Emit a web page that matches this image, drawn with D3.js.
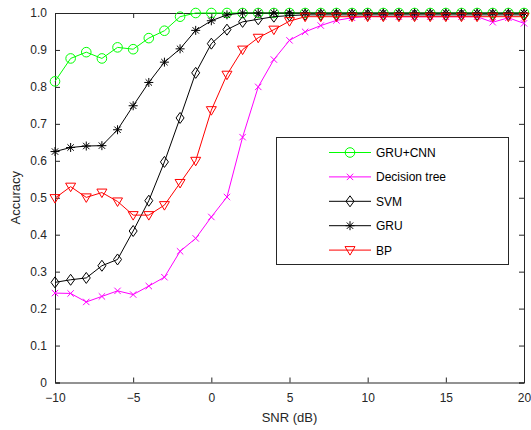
<!DOCTYPE html>
<html><head><meta charset="utf-8">
<script src="https://cdn.jsdelivr.net/npm/d3@7"></script>
<style>body{margin:0;background:#fff}svg{display:block}text{font-family:"Liberation Sans",Arial,sans-serif}</style>
</head><body><svg id="c" width="531" height="430"></svg>
<script>
const snr = d3.range(-10, 21, 1);
const gruCnn = [0.815,0.877,0.894,0.877,0.907,0.902,0.932,0.952,0.990,1.0,1.0,1.0,1.0,1.0,1.0,1.0,1.0,1.0,1.0,1.0,1.0,1.0,1.0,1.0,1.0,1.0,1.0,1.0,1.0,1.0,1.0];
const decisionTree = [0.242,0.241,0.218,0.233,0.248,0.238,0.261,0.285,0.355,0.390,0.448,0.502,0.664,0.800,0.874,0.926,0.949,0.966,0.980,0.987,0.991,0.990,0.990,0.990,0.990,0.990,0.990,0.990,0.975,0.987,0.972];
const svm = [0.271,0.278,0.283,0.316,0.333,0.410,0.492,0.597,0.716,0.838,0.917,0.955,0.976,0.983,0.990,0.993,0.995,0.995,0.995,0.995,0.995,0.995,0.995,0.995,0.995,0.995,0.995,0.995,0.995,0.995,0.995];
const gru = [0.625,0.636,0.640,0.641,0.684,0.749,0.812,0.867,0.903,0.953,0.979,0.995,1.0,1.0,1.0,1.0,1.0,1.0,1.0,1.0,1.0,1.0,1.0,1.0,1.0,1.0,1.0,1.0,1.0,1.0,1.0];
const bp = [0.499,0.530,0.501,0.514,0.490,0.453,0.453,0.480,0.540,0.600,0.737,0.833,0.901,0.933,0.955,0.978,0.990,0.990,0.990,0.990,0.990,0.990,0.990,0.990,0.990,0.990,0.990,0.990,0.990,0.990,0.990];
const seriesNames = ["GRU+CNN","Decision tree","SVM","GRU","BP"];
const xTicks = [-10,-5,0,5,10,15,20];
const yTicks = [0,0.1,0.2,0.3,0.4,0.5,0.6,0.7,0.8,0.9,1.0];

const series = [
  {name: seriesNames[0], vals: gruCnn, color: "#00ff00", marker: "circle"},
  {name: seriesNames[1], vals: decisionTree, color: "#ff00ff", marker: "x"},
  {name: seriesNames[2], vals: svm, color: "#000000", marker: "diamond"},
  {name: seriesNames[3], vals: gru, color: "#000000", marker: "star"},
  {name: seriesNames[4], vals: bp, color: "#ff0000", marker: "tri"}
];

const L = 55, R = 524, T = 13, B = 382.5;
const x = d3.scaleLinear().domain([-10,20]).range([L,R]);
const y = d3.scaleLinear().domain([0,1]).range([B,T]);
const svg = d3.select("#c");
const axisColor = "#262626";

function markerPath(type){
  switch(type){
    case "circle": return "M4.8,0A4.8,4.8 0 1,1 -4.8,0A4.8,4.8 0 1,1 4.8,0Z";
    case "x": return "M-3.2,-3.2L3.2,3.2M-3.2,3.2L3.2,-3.2";
    case "diamond": return "M0,-5.5L4,0L0,5.5L-4,0Z";
    case "star": return "M0,-4.5L0,4.5M-4.5,0L4.5,0M-3.2,-3.2L3.2,3.2M-3.2,3.2L3.2,-3.2";
    case "tri": return "M-5,-3.5L5,-3.5L0,5Z";
  }
}

// axes
const gx = svg.append("g").attr("transform",`translate(0,${B})`)
  .call(d3.axisBottom(x).tickValues(xTicks).tickSize(-5).tickPadding(11)
    .tickFormat(d => d < 0 ? "\u2212" + Math.abs(d) : String(d)));
const gxt = svg.append("g").attr("transform",`translate(0,${T})`)
  .call(d3.axisTop(x).tickValues(xTicks).tickSize(-5).tickFormat(""));
const gy = svg.append("g").attr("transform",`translate(${L},0)`)
  .call(d3.axisLeft(y).tickValues(yTicks).tickSize(-5).tickPadding(8)
    .tickFormat(d => d === 0 ? "0" : d3.format(".1f")(d)));
const gyr = svg.append("g").attr("transform",`translate(${R},0)`)
  .call(d3.axisRight(y).tickValues(yTicks).tickSize(-5).tickFormat(""));
[gx,gxt,gy,gyr].forEach(g=>{
  g.select(".domain").attr("stroke",axisColor).attr("stroke-width",1);
  g.selectAll(".tick line").attr("stroke",axisColor);
  g.selectAll(".tick text").attr("fill",axisColor).style("font-size","12px").style("font-family","Liberation Sans, Arial, sans-serif");
});

const line = d3.line().x((d,i)=>x(snr[i])).y(d=>y(d));
series.forEach(s=>{
  const g = svg.append("g");
  g.append("path").datum(s.vals).attr("d",line).attr("fill","none").attr("stroke",s.color).attr("stroke-width",1);
  g.selectAll("path.m").data(s.vals).enter().append("path").attr("class","m")
    .attr("transform",(d,i)=>`translate(${x(snr[i])},${y(d)})`)
    .attr("d",markerPath(s.marker)).attr("fill","none").attr("stroke",s.color).attr("stroke-width",1);
});

// labels
svg.append("text").attr("x",(L+R)/2).attr("y",422).attr("text-anchor","middle")
  .style("font-size","13px").attr("fill",axisColor).text("SNR (dB)");
svg.append("text").attr("transform",`translate(20,${(T+B)/2}) rotate(-90)`).attr("text-anchor","middle")
  .style("font-size","13px").attr("fill",axisColor).text("Accuracy");

// legend
const lg = svg.append("g");
lg.append("rect").attr("x",276.5).attr("y",137.5).attr("width",232).attr("height",127)
  .attr("fill","#fff").attr("stroke",axisColor).attr("stroke-width",1);
series.forEach((s,i)=>{
  const yy = 152.5 + i*24.4;
  lg.append("line").attr("x1",329).attr("x2",371).attr("y1",yy).attr("y2",yy).attr("stroke",s.color);
  lg.append("path").attr("transform",`translate(350,${yy})`).attr("d",markerPath(s.marker))
    .attr("fill","none").attr("stroke",s.color);
  lg.append("text").attr("x",376).attr("y",yy+4.5).style("font-size","12px").attr("fill","#000").text(s.name);
});
</script></body></html>
